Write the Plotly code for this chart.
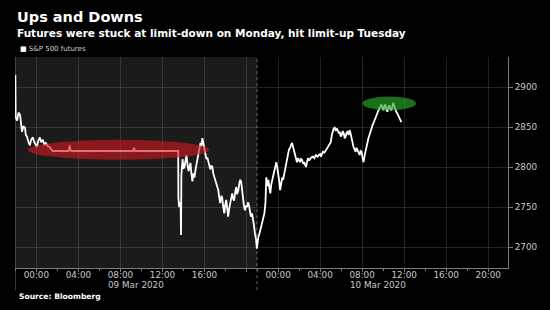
import plotly.graph_objects as go

# ---- data ----
times = [
    "2020-03-08 22:00", "2020-03-08 22:02", "2020-03-08 22:10", "2020-03-08 22:18", "2020-03-08 22:27",
    "2020-03-08 22:33", "2020-03-08 22:38", "2020-03-08 22:46", "2020-03-08 22:55", "2020-03-08 23:00",
    "2020-03-08 23:06", "2020-03-08 23:14", "2020-03-08 23:23", "2020-03-08 23:30", "2020-03-08 23:40",
    "2020-03-08 23:50",
    "2020-03-09 00:03", "2020-03-09 00:10", "2020-03-09 00:20", "2020-03-09 00:28", "2020-03-09 00:37",
    "2020-03-09 00:45", "2020-03-09 00:54", "2020-03-09 01:05", "2020-03-09 01:16", "2020-03-09 01:25",
    "2020-03-09 01:33", "2020-03-09 03:04", "2020-03-09 03:10", "2020-03-09 03:15", "2020-03-09 03:21",
    "2020-03-09 09:12", "2020-03-09 09:17", "2020-03-09 09:23", "2020-03-09 13:30", "2020-03-09 13:31",
    "2020-03-09 13:35", "2020-03-09 13:40", "2020-03-09 13:44", "2020-03-09 13:46", "2020-03-09 13:48",
    "2020-03-09 13:55", "2020-03-09 14:00", "2020-03-09 14:06", "2020-03-09 14:12", "2020-03-09 14:17",
    "2020-03-09 14:23", "2020-03-09 14:29", "2020-03-09 14:35", "2020-03-09 14:40", "2020-03-09 14:46",
    "2020-03-09 14:51", "2020-03-09 14:57", "2020-03-09 15:03", "2020-03-09 15:09", "2020-03-09 15:14",
    "2020-03-09 15:20", "2020-03-09 15:25", "2020-03-09 15:31", "2020-03-09 15:37", "2020-03-09 15:42",
    "2020-03-09 15:48", "2020-03-09 15:53", "2020-03-09 15:59", "2020-03-09 16:05", "2020-03-09 16:11",
    "2020-03-09 16:16", "2020-03-09 16:22", "2020-03-09 16:28", "2020-03-09 16:33", "2020-03-09 16:39",
    "2020-03-09 16:45", "2020-03-09 16:50", "2020-03-09 16:56", "2020-03-09 17:01", "2020-03-09 17:07",
    "2020-03-09 17:13", "2020-03-09 17:19", "2020-03-09 17:24", "2020-03-09 17:30", "2020-03-09 17:36",
    "2020-03-09 17:41", "2020-03-09 17:47", "2020-03-09 17:53", "2020-03-09 17:58", "2020-03-09 18:04",
    "2020-03-09 18:10", "2020-03-09 18:15", "2020-03-09 18:21", "2020-03-09 18:27", "2020-03-09 18:32",
    "2020-03-09 18:38", "2020-03-09 18:44", "2020-03-09 18:49", "2020-03-09 18:55", "2020-03-09 19:01",
    "2020-03-09 19:06", "2020-03-09 19:12", "2020-03-09 19:18", "2020-03-09 19:23", "2020-03-09 19:29",
    "2020-03-09 19:34", "2020-03-09 19:40", "2020-03-09 19:45", "2020-03-09 19:51", "2020-03-09 19:57",
    "2020-03-09 20:03", "2020-03-09 20:08", "2020-03-09 20:14", "2020-03-09 20:20", "2020-03-09 20:25",
    "2020-03-09 20:31", "2020-03-09 20:37", "2020-03-09 20:42", "2020-03-09 20:48", "2020-03-09 20:54",
    "2020-03-09 20:59",
    "2020-03-09 22:00", "2020-03-09 22:07", "2020-03-09 22:14", "2020-03-09 22:20", "2020-03-09 22:25",
    "2020-03-09 22:31", "2020-03-09 22:36", "2020-03-09 22:42", "2020-03-09 22:48", "2020-03-09 22:50",
    "2020-03-09 22:53", "2020-03-09 22:59", "2020-03-09 23:05", "2020-03-09 23:10", "2020-03-09 23:16",
    "2020-03-09 23:21", "2020-03-09 23:27", "2020-03-09 23:33", "2020-03-09 23:38", "2020-03-09 23:44",
    "2020-03-09 23:50", "2020-03-09 23:55",
    "2020-03-10 00:01", "2020-03-10 00:07", "2020-03-10 00:12", "2020-03-10 00:18", "2020-03-10 00:24",
    "2020-03-10 00:29", "2020-03-10 00:35", "2020-03-10 00:41", "2020-03-10 00:46", "2020-03-10 00:52",
    "2020-03-10 00:58", "2020-03-10 01:03", "2020-03-10 01:09", "2020-03-10 01:15", "2020-03-10 01:20",
    "2020-03-10 01:26", "2020-03-10 01:32", "2020-03-10 01:37", "2020-03-10 01:43", "2020-03-10 01:48",
    "2020-03-10 01:54", "2020-03-10 02:00", "2020-03-10 02:06", "2020-03-10 02:11", "2020-03-10 02:17",
    "2020-03-10 02:23", "2020-03-10 02:28", "2020-03-10 02:34", "2020-03-10 02:40", "2020-03-10 02:45",
    "2020-03-10 02:51", "2020-03-10 02:57", "2020-03-10 03:02", "2020-03-10 03:10", "2020-03-10 03:19",
    "2020-03-10 03:27", "2020-03-10 03:36", "2020-03-10 03:45", "2020-03-10 03:53", "2020-03-10 04:00",
    "2020-03-10 04:05", "2020-03-10 04:10", "2020-03-10 04:16", "2020-03-10 04:25", "2020-03-10 04:33",
    "2020-03-10 04:41", "2020-03-10 04:50", "2020-03-10 04:56", "2020-03-10 05:01", "2020-03-10 05:07",
    "2020-03-10 05:13", "2020-03-10 05:18", "2020-03-10 05:24", "2020-03-10 05:30", "2020-03-10 05:35",
    "2020-03-10 05:41", "2020-03-10 05:47", "2020-03-10 05:52", "2020-03-10 05:58", "2020-03-10 06:04",
    "2020-03-10 06:09", "2020-03-10 06:15", "2020-03-10 06:21", "2020-03-10 06:26", "2020-03-10 06:32",
    "2020-03-10 06:37", "2020-03-10 06:43", "2020-03-10 06:49", "2020-03-10 06:54", "2020-03-10 07:00",
    "2020-03-10 07:05", "2020-03-10 07:11", "2020-03-10 07:17", "2020-03-10 07:23", "2020-03-10 07:28",
    "2020-03-10 07:34", "2020-03-10 07:40", "2020-03-10 07:46", "2020-03-10 07:51", "2020-03-10 07:57",
    "2020-03-10 08:02", "2020-03-10 08:08", "2020-03-10 08:14", "2020-03-10 08:20", "2020-03-10 08:25",
    "2020-03-10 08:31", "2020-03-10 08:36", "2020-03-10 08:42", "2020-03-10 08:47", "2020-03-10 08:53",
    "2020-03-10 08:59", "2020-03-10 09:05", "2020-03-10 09:10", "2020-03-10 09:16", "2020-03-10 09:22",
    "2020-03-10 09:28", "2020-03-10 09:33", "2020-03-10 09:39", "2020-03-10 09:45", "2020-03-10 09:50",
    "2020-03-10 09:56", "2020-03-10 10:02", "2020-03-10 10:07", "2020-03-10 10:13", "2020-03-10 10:18",
    "2020-03-10 10:24", "2020-03-10 10:30", "2020-03-10 10:35", "2020-03-10 10:41", "2020-03-10 10:47",
    "2020-03-10 10:52", "2020-03-10 10:58", "2020-03-10 11:04", "2020-03-10 11:10", "2020-03-10 11:15",
    "2020-03-10 11:21", "2020-03-10 11:27", "2020-03-10 11:32", "2020-03-10 11:38", "2020-03-10 11:44",
]
prices = [
    2915, 2862, 2858, 2868, 2865, 2852, 2844, 2851, 2849, 2840,
    2838, 2832, 2827, 2834, 2837, 2830,
    2825, 2832, 2837, 2831, 2834, 2828, 2830, 2826, 2825, 2822,
    2820, 2820, 2827, 2821, 2820, 2820, 2824, 2820, 2820, 2762,
    2750, 2756, 2750, 2715, 2790, 2810, 2798, 2800, 2808, 2815,
    2803, 2795, 2800, 2805, 2790, 2782, 2792, 2787, 2797, 2803,
    2812, 2817, 2822, 2830, 2826, 2836, 2830, 2822, 2815, 2810,
    2812, 2805, 2799, 2797, 2802, 2800, 2792, 2787, 2785, 2781,
    2776, 2771, 2762, 2755, 2764, 2762, 2750, 2742, 2752, 2759,
    2748, 2738, 2748, 2755, 2762, 2767, 2760, 2758, 2768, 2775,
    2766, 2770, 2778, 2784, 2782, 2770, 2759, 2752, 2746, 2752,
    2750, 2756, 2752, 2745, 2738, 2742, 2735, 2728, 2717, 2710,
    2698,
    2700, 2712, 2717, 2722, 2725, 2730, 2734, 2742, 2755, 2767,
    2787, 2776, 2784, 2775, 2767, 2778, 2784, 2790, 2796, 2802,
    2806, 2800,
    2792, 2782, 2771, 2780, 2787, 2784, 2792, 2798, 2805, 2812,
    2817, 2822, 2824, 2828, 2830, 2825, 2819, 2814, 2809, 2806,
    2811, 2808, 2806, 2810, 2809, 2804, 2806, 2803, 2800, 2806,
    2811, 2808, 2810, 2812, 2813, 2811, 2815, 2813, 2815, 2816,
    2813, 2817, 2819, 2818, 2821, 2824, 2827, 2829, 2831, 2840,
    2846, 2848, 2849, 2845, 2848, 2846, 2842, 2844, 2838, 2840,
    2845, 2842, 2836, 2838, 2843, 2844, 2840, 2846, 2842, 2834,
    2828, 2825, 2822, 2819, 2824, 2821, 2818, 2815, 2820, 2819,
    2812, 2806, 2814, 2821, 2826, 2831, 2836, 2840, 2844, 2849,
    2852, 2855, 2858, 2861, 2864, 2867, 2871, 2874, 2876, 2878,
    2874, 2871, 2876, 2878, 2873, 2869, 2874, 2877, 2873, 2871,
    2875, 2880, 2876, 2871, 2869, 2867, 2864, 2862, 2859, 2856,
]

tick_vals = [
    "2020-03-09 00:00", "2020-03-09 04:00", "2020-03-09 08:00", "2020-03-09 12:00",
    "2020-03-09 16:00", "2020-03-09 20:00",
    "2020-03-10 00:00", "2020-03-10 04:00", "2020-03-10 08:00", "2020-03-10 12:00",
    "2020-03-10 16:00", "2020-03-10 20:00",
]
tick_text = ["00:00", "04:00", "08:00", "12:00", "16:00", "",
             "00:00", "04:00", "08:00", "12:00", "16:00", "20:00"]
y_ticks = [2700, 2750, 2800, 2850, 2900]

x_start, x_end = "2020-03-08 21:58", "2020-03-10 21:53"
break_start, break_end = "2020-03-09 21:00", "2020-03-09 22:00"

limit_down = dict(x0="2020-03-08 23:12", x1="2020-03-09 16:28", y0=2809, y1=2834)
limit_up = dict(x0="2020-03-10 08:02", x1="2020-03-10 13:08", y0=2871, y1=2888)

fig = go.Figure()
fig.add_trace(go.Scatter(x=times, y=prices, mode="lines", name="S&P 500 futures",
                         line=dict(color="white", width=1.8), showlegend=False))

grid = "rgba(255,255,255,0.13)"
axis_col = "#7a7a7a"
sans = "DejaVu Sans, Verdana, sans-serif"
tick_font = dict(family=sans, size=8.8, color="#c8c8c8")

fig.update_xaxes(
    type="date", range=[x_start, x_end],
    rangebreaks=[dict(bounds=[break_start, break_end])],
    tickmode="array", tickvals=tick_vals, ticktext=tick_text,
    showgrid=True, gridcolor=grid, gridwidth=1,
    showline=True, linecolor=axis_col, linewidth=1,
    ticks="outside", ticklen=3, tickcolor=axis_col,
    minor=dict(dtick=2 * 3600 * 1000, tick0="2020-03-09 00:00", ticks="outside",
               ticklen=2, tickcolor=axis_col, showgrid=False),
    tickfont=tick_font, zeroline=False, ticklabelstandoff=-5,
)
fig.update_yaxes(
    range=[2673.75, 2937.5], side="right", tickvals=y_ticks,
    showgrid=True, gridcolor=grid, gridwidth=1,
    showline=True, linecolor=axis_col, linewidth=1,
    ticks="outside", ticklen=4, tickcolor=axis_col,
    tickfont=tick_font, zeroline=False,
)

shapes = [
    dict(type="rect", xref="x", yref="paper", x0=x_start, x1=break_start, y0=0, y1=1,
         fillcolor="#1b1b1b", line=dict(width=0), layer="below"),
    dict(type="line", xref="x", yref="paper", x0=x_start, x1=x_start, y0=-0.105, y1=1,
         line=dict(color="#6a6a6a", width=1), layer="between"),
    dict(type="line", xref="x", yref="paper", x0=break_start, x1=break_start, y0=-0.105, y1=1,
         line=dict(color="#6a6a6a", width=1, dash="dot"), layer="between"),
    dict(type="circle", xref="x", yref="y", **limit_down,
         fillcolor="rgba(205,25,30,0.62)", line=dict(width=0), layer="above"),
    dict(type="circle", xref="x", yref="y", **limit_up,
         fillcolor="rgba(40,170,40,0.65)", line=dict(width=0), layer="above"),
]

annotations = [
    dict(text="<b>Ups and Downs</b>", x=0, y=1.19, xref="paper", yref="paper",
         xanchor="left", yanchor="middle", showarrow=False,
         font=dict(family=sans, size=14.5, color="white")),
    dict(text="<b>Futures were stuck at limit-down on Monday, hit limit-up Tuesday</b>",
         x=0, y=1.114, xref="paper", yref="paper", xanchor="left", yanchor="middle",
         showarrow=False, font=dict(family=sans, size=10.5, color="white")),
    dict(text="<span style='color:white'>■</span> S&P 500 futures", x=0.006, y=1.038,
         xref="paper", yref="paper", xanchor="left", yanchor="middle", showarrow=False,
         font=dict(family=sans, size=7, color="#cfcfcf")),
    dict(text="<b>Source: Bloomberg</b>", x=0.004, y=-0.137, xref="paper", yref="paper",
         xanchor="left", yanchor="middle", showarrow=False,
         font=dict(family=sans, size=7.6, color="white")),
    dict(text="09 Mar 2020", x="2020-03-09 09:30", y=-0.082, xref="x", yref="paper",
         xanchor="center", yanchor="middle", showarrow=False, font=tick_font),
    dict(text="10 Mar 2020", x="2020-03-10 09:30", y=-0.082, xref="x", yref="paper",
         xanchor="center", yanchor="middle", showarrow=False, font=tick_font),
]

fig.update_layout(
    width=550, height=310,
    margin=dict(l=15, r=37, t=57, b=42),
    paper_bgcolor="black", plot_bgcolor="black",
    shapes=shapes, annotations=annotations,
    showlegend=False,
)

fig.write_html("out.html")
